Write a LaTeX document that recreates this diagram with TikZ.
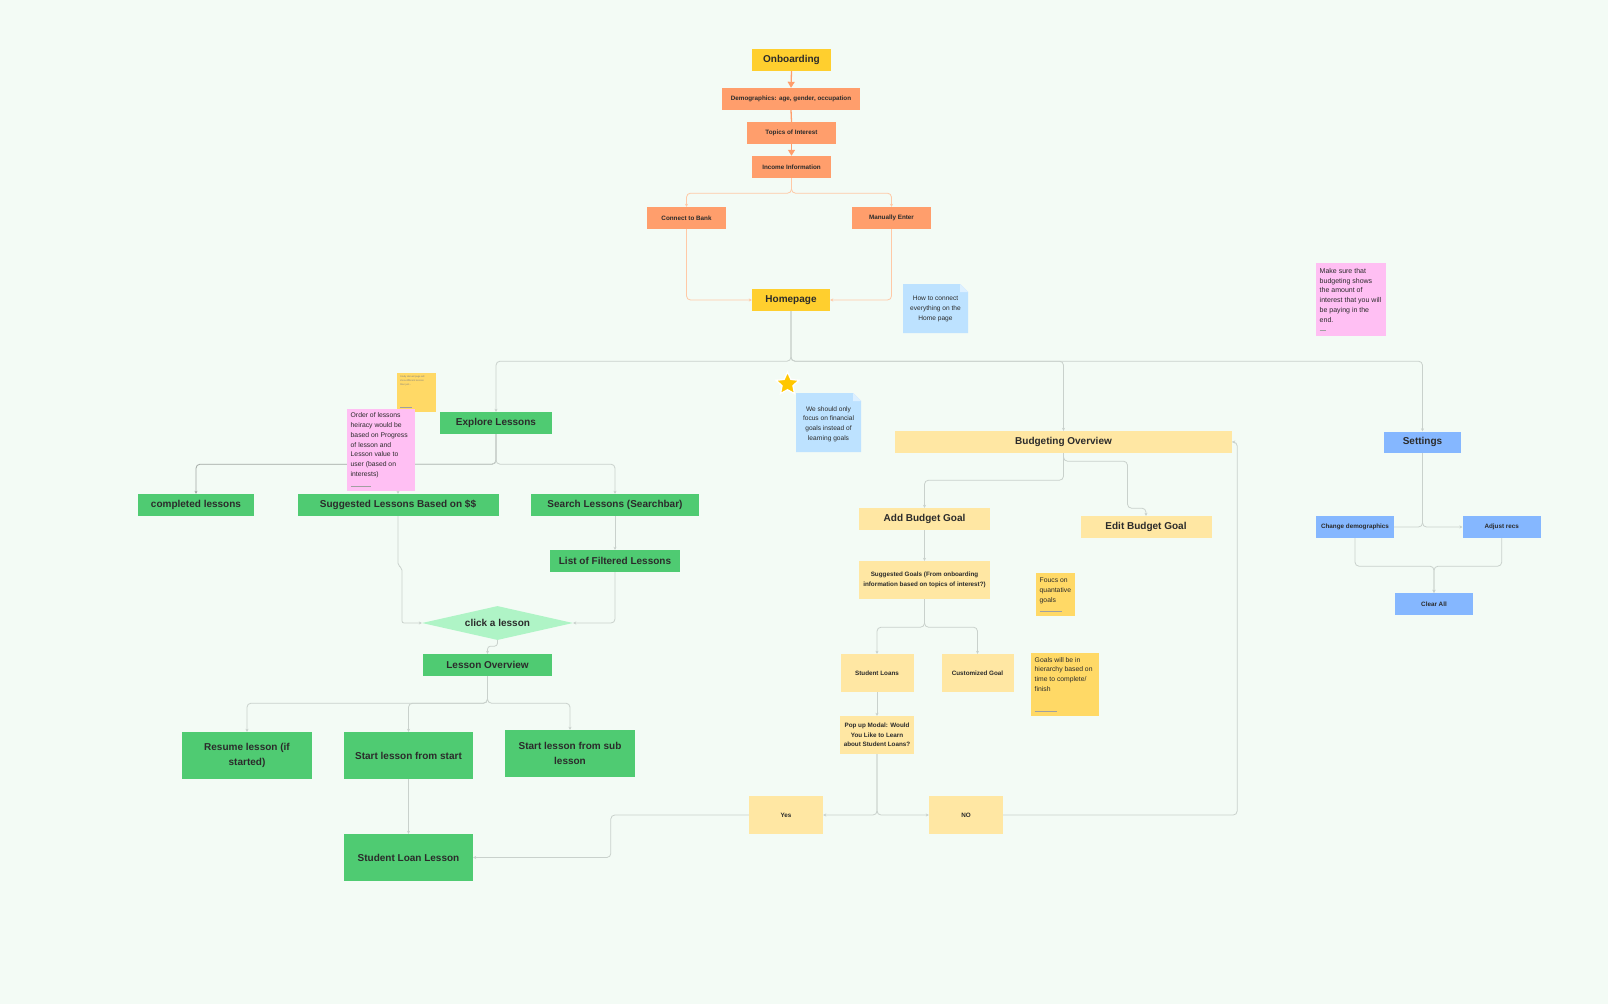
\documentclass[tikz,border=0pt]{standalone}
\usepackage{fontspec}
\setmainfont{Liberation Sans}
\usetikzlibrary{arrows.meta,shapes.geometric,calc}

\definecolor{bgc}{HTML}{F3FBF5}
\definecolor{yel}{HTML}{FFCF2E}
\definecolor{org}{HTML}{FF9E6C}
\definecolor{orgline}{HTML}{FFC9A6}
\definecolor{grn}{HTML}{4FCB72}
\definecolor{mint}{HTML}{AFF4C6}
\definecolor{lyel}{HTML}{FFE7A3}
\definecolor{sticky}{HTML}{FFD966}
\definecolor{pinkn}{HTML}{FFBFF3}
\definecolor{lblue}{HTML}{BDE2FF}
\definecolor{lbluefold}{HTML}{DDF0FF}
\definecolor{blu}{HTML}{85B7FF}
\definecolor{conc}{HTML}{C9D1CC}
\definecolor{txt}{HTML}{2B2B2B}
\definecolor{starc}{HTML}{FFC700}

\pgfdeclarelayer{back}
\pgfdeclarelayer{lines}
\pgfsetlayers{back,lines,main}

% folded-corner note: x1 y1 x2 y2
\newcommand{\foldnote}[4]{%
  \fill[lblue] (#1,#2) -- (#3-8,#2) -- (#3,#2+8) -- (#3,#4) -- (#1,#4) -- cycle;
  \fill[lbluefold] (#3-8,#2) -- (#3-8,#2+8) -- (#3,#2+8) -- cycle;
}
% faint author line at the foot of a sticky note: x y length
\newcommand{\authormark}[3]{%
  \draw[txt!45, line width=0.5pt] (#1,#2) -- ++(#3,0);
}

\begin{document}
\begin{tikzpicture}[x=1pt,y=-1pt,
  base/.style={inner sep=0pt, align=center, text=txt},
  bigf/.style={font=\bfseries\fontsize{10}{15.5}\selectfont},
  smallf/.style={font=\bfseries\fontsize{6.3}{9.6}\selectfont},
  ybox/.style={base, bigf, fill=yel},
  obox/.style={base, smallf, fill=org},
  gbox/.style={base, bigf, fill=grn},
  lybig/.style={base, bigf, fill=lyel},
  lysmall/.style={base, smallf, fill=lyel},
  bbig/.style={base, bigf, fill=blu},
  bsmall/.style={base, smallf, fill=blu},
  notetext/.style={inner sep=0pt, anchor=north west, align=left, text=txt,
    font=\fontsize{6.8}{9.8}\selectfont},
  bluetext/.style={inner sep=0pt, align=center, text=txt,
    font=\fontsize{6.6}{9.8}\selectfont},
  tinytext/.style={inner sep=0pt, anchor=north west, align=left, text=txt!60,
    font=\fontsize{2.4}{4}\selectfont},
  conn/.style={draw=conc, line width=0.8pt, rounded corners=4pt,
    -{Stealth[length=3pt,width=3pt]}},
  connp/.style={draw=conc, line width=0.8pt, rounded corners=4pt},
  oconn/.style={draw=orgline, line width=0.8pt, rounded corners=4pt,
    -{Stealth[length=3pt,width=3pt]}},
  othick/.style={draw=org, line width=1.3pt},
  oarrow/.style={draw=org, line width=1.3pt, -{Triangle[length=6pt,width=7pt]}},
]
\begin{pgfonlayer}{back}
  \fill[bgc] (0,0) rectangle (1608,1004);
\end{pgfonlayer}
\useasboundingbox (0,0) rectangle (1608,1004);

% ---------------- onboarding chain ----------------
\node[ybox, minimum width=79, minimum height=22] (onb) at (791.5,60) {Onboarding};
\node[obox, minimum width=138, minimum height=22] (demo) at (791,99) {Demographics: age, gender, occupation};
\node[obox, minimum width=89, minimum height=22] (topics) at (791.5,133) {Topics of Interest};
\node[obox, minimum width=79, minimum height=22] (income) at (791.5,167) {Income Information};
\node[obox, minimum width=79, minimum height=22] (bank) at (686.5,218) {Connect to Bank};
\node[obox, minimum width=79, minimum height=22] (manual) at (891.5,218) {Manually Enter};
\node[ybox, minimum width=78, minimum height=22] (home) at (791,300) {Homepage};

% note beside the homepage
\foldnote{903}{284}{968}{333}
\node[bluetext] (nhome) at (935.5,309) {How to connect\\everything on the\\Home page};

% ---------------- lessons branch ----------------
\node[gbox, minimum width=112, minimum height=22] (explore) at (496,423) {Explore Lessons};
\node[gbox, minimum width=116, minimum height=22] (completed) at (196,505) {completed lessons};
\node[gbox, minimum width=201, minimum height=22] (suggested) at (398,505) {Suggested Lessons Based on \$\$};
\node[gbox, minimum width=168, minimum height=22] (search) at (615,505) {Search Lessons (Searchbar)};
\node[gbox, minimum width=130, minimum height=22] (filtered) at (615,561) {List of Filtered Lessons};
\node[base, bigf, shape=diamond, fill=mint, shape aspect=4.4,
      minimum width=151, minimum height=34] (dia) at (497.5,623) {click a lesson};
\node[gbox, minimum width=129, minimum height=22] (overview) at (487.5,665) {Lesson Overview};
\node[gbox, minimum width=130, minimum height=47] (resume) at (247,755.5) {Resume lesson (if\\started)};
\node[gbox, minimum width=129, minimum height=47] (startstart) at (408.5,755.5) {Start lesson from start};
\node[gbox, minimum width=130, minimum height=47] (startsub) at (570,753.5) {Start lesson from sub\\lesson};
\node[gbox, minimum width=129, minimum height=47] (sll) at (408.5,857.5) {Student Loan Lesson};

% sticky notes next to Explore Lessons
\node[fill=sticky, minimum width=39, minimum height=39, inner sep=0] (ynote) at (416.5,392.5) {};
\node[tinytext] at (400,376) {Study abroad page will\\show different lessons\\than just...};
\authormark{400}{407.5}{12}
\node[fill=pinkn, minimum width=68, minimum height=82, inner sep=0] (pnote) at (381,450) {};
\node[notetext] at (350.5,412.5) {Order of lessons\\heiracy would be\\based on Progress\\of lesson and\\Lesson value to\\user (based on\\interests)};
\authormark{350.5}{486}{20}

% ---------------- budgeting branch ----------------
\node[star, star points=5, star point ratio=2.1, fill=starc, draw=white,
      line width=1.3pt, minimum size=24, inner sep=0] (star) at (787.5,384) {};
\foldnote{796}{393}{861}{452}
\node[bluetext] (nfocus) at (828.5,424) {We should only\\focus on financial\\goals instead of\\learning goals};

\node[lybig, minimum width=337, minimum height=22] (budget) at (1063.5,442) {Budgeting Overview};
\node[lybig, minimum width=131, minimum height=22] (addgoal) at (924.5,519) {Add Budget Goal};
\node[lybig, minimum width=131, minimum height=22] (editgoal) at (1146,527) {Edit Budget Goal};
\node[lysmall, minimum width=131, minimum height=38] (suggoals) at (924.5,580) {Suggested Goals (From onboarding\\information based on topics of interest?)};
\node[lysmall, minimum width=73, minimum height=38] (sloans) at (877,673) {Student Loans};
\node[lysmall, minimum width=72, minimum height=38] (custom) at (977.5,673) {Customized Goal};
\node[lysmall, minimum width=74, minimum height=38] (popup) at (877,735) {Pop up Modal: Would\\You Like to Learn\\about Student Loans?};
\node[lysmall, minimum width=74, minimum height=38] (yes) at (786,815) {Yes};
\node[lysmall, minimum width=74, minimum height=38] (no) at (966,815) {NO};

\node[fill=sticky, minimum width=39, minimum height=43, inner sep=0] (fnote) at (1055.5,594.5) {};
\node[notetext] at (1039.5,578) {Foucs on\\quantative\\goals};
\authormark{1039.5}{611.5}{22}
\node[fill=sticky, minimum width=68, minimum height=63, inner sep=0] (gnote) at (1065,684.5) {};
\node[notetext] at (1034.5,657) {Goals will be in\\hierarchy based on\\time to complete/\\finish};
\authormark{1034.5}{711.5}{22}

% ---------------- settings branch ----------------
\node[fill=pinkn, minimum width=70, minimum height=73, inner sep=0] (pnote2) at (1351,299.5) {};
\node[notetext, font=\fontsize{7}{9.8}\selectfont] at (1319.5,268) {Make sure that\\budgeting shows\\the amount of\\interest that you will\\be paying in the\\end.};
\authormark{1319.5}{330}{6}

\node[bbig, minimum width=77, minimum height=21] (settings) at (1422.5,442) {Settings};
\node[bsmall, minimum width=78, minimum height=22] (chdemo) at (1355,527) {Change demographics};
\node[bsmall, minimum width=78, minimum height=22] (adjust) at (1501.7,527) {Adjust recs};
\node[bsmall, minimum width=78, minimum height=22] (clear) at (1434,604) {Clear All};

% ---------------- connectors ----------------
\begin{pgfonlayer}{lines}
  % onboarding
  \draw[oarrow] (onb.south) -- (demo.north);
  \draw[othick] (demo.south) -- (topics.north);
  \draw[oarrow] (topics.south) -- (income.north);
  \draw[oconn] (income.south) -- ++(0,15) -| (bank.north);
  \draw[oconn] (income.south) -- ++(0,15) -| (manual.north);
  \draw[oconn] (bank.south) |- (home.west);
  \draw[oconn] (manual.south) |- (home.east);

  % homepage fan-out
  \draw[conn] (home.south) -- ++(0,50) -| (explore.north);
  \draw[conn] (home.south) -- ++(0,50) -| (budget.north);
  \draw[conn] (home.south) -- ++(0,50) -| (settings.north);

  % lessons
  \draw[conn, draw=conc!80!black] (explore.south) -- ++(0,30) -| (completed.north);
  \draw[conn] (explore.south) -- ++(0,30) -| (suggested.north);
  \draw[conn] (explore.south) -- ++(0,30) -| (search.north);
  \draw[conn] (search.south) -- (filtered.north);
  \draw[conn, rounded corners=2pt] (suggested.south) -- ++(0,49) -- ++(4,3) |- (dia.west);
  \draw[conn] (filtered.south) |- (dia.east);
  \draw[conn, rounded corners=3pt] (dia.south) -- ++(0,6) -| (overview.north);
  \draw[conn] (overview.south) -- ++(0,27) -| (resume.north);
  \draw[conn] (overview.south) -- ++(0,27) -| (startstart.north);
  \draw[conn] (overview.south) -- ++(0,27) -| (startsub.north);
  \draw[conn] (startstart.south) -- (sll.north);
  \draw[conn] (yes.west) -- ++(-138,0) |- (sll.east);

  % budgeting
  \draw[conn] (budget.south) -- ++(0,27) -| (addgoal.north);
  \draw[conn] (budget.south) -- ++(0,8) -- ++(64,0) -- ++(0,47) -| (editgoal.north);
  \draw[conn] (addgoal.south) -- (suggoals.north);
  \draw[conn] (suggoals.south) -- ++(0,28) -| (sloans.north);
  \draw[conn] (suggoals.south) -- ++(0,28) -| (custom.north);
  \draw[conn] (sloans.south) -- (popup.north);
  \draw[conn] (popup.south) |- (yes.east);
  \draw[conn] (popup.south) |- (no.west);
  \draw[conn] (no.east) -- ++(234,0) |- (budget.east);

  % settings
  \draw[conn] (settings.south) |- (adjust.west);
  \draw[connp] (settings.south) |- (chdemo.east);
  \draw[conn] (chdemo.south) -- ++(0,28) -| (clear.north);
  \draw[conn] (adjust.south) -- ++(0,28) -| (clear.north);
\end{pgfonlayer}
\end{tikzpicture}
\end{document}
